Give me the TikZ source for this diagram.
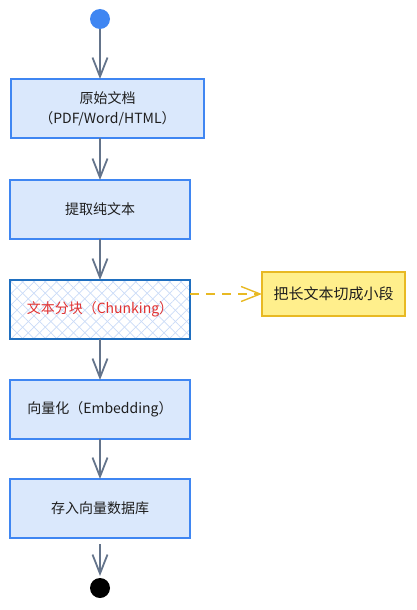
\documentclass[tikz,border=0pt]{standalone}
\usepackage{fontspec}
\setmainfont{Noto Sans CJK SC}
\usetikzlibrary{positioning, arrows.meta, patterns.meta}
\definecolor{boxfill}{HTML}{DAE8FC}
\definecolor{boxline}{HTML}{3F86F2}
\definecolor{chunkline}{HTML}{1F6FC0}
\definecolor{hatch}{HTML}{CADBF7}
\definecolor{flow}{HTML}{64748B}
\definecolor{chunktext}{HTML}{E03131}
\definecolor{notefill}{HTML}{FFEF8C}
\definecolor{noteline}{HTML}{E8B923}
\definecolor{ink}{HTML}{1E1E1E}
\tikzset{
  >={Straight Barb[length=19pt,width=15pt]},
  x=1pt, y=-1pt,
  every node/.style={font=\fontsize{14}{20}\selectfont, text=ink, outer sep=0pt},
  stepbox/.style={draw=boxline, line width=1.6pt, fill=boxfill,
                  minimum width=180pt, minimum height=59pt, align=center},
  chunkbox/.style={stepbox, draw=chunkline, line width=2pt, fill=none,
                   preaction={pattern={Lines[angle=45,distance=8pt,line width=0.7pt]}, pattern color=hatch},
                   preaction={pattern={Lines[angle=-45,distance=8pt,line width=0.7pt]}, pattern color=hatch}},
  notebox/.style={draw=noteline, line width=1.6pt, fill=notefill,
                  minimum width=143pt, minimum height=44pt, font=\fontsize{15}{16}\selectfont},
  startdot/.style={circle, fill=boxline, minimum size=20pt, inner sep=0pt},
  enddot/.style={circle, fill=black, minimum size=20pt, inner sep=0pt},
  flowline/.style={->, draw=flow, line width=1.8pt},
  hintline/.style={->, draw=noteline, line width=1.4pt, dash pattern=on 9pt off 7pt},
}

\begin{document}
\begin{tikzpicture}
      \useasboundingbox (0,0) rectangle (416,610);

      \node[startdot]                                 (start)   at (100,19) {};
      \node[stepbox,minimum width=193pt,below=50pt of start,xshift=7.5pt]
                                                      (doc)     {原始文档\\（PDF/Word/HTML）};
      \node[stepbox,below=42pt of doc,xshift=-7.5pt]  (extract) {提取纯文本};
      \node[chunkbox,below=41pt of extract]           (chunk)   {\color{chunktext}文本分块（Chunking）};
      \node[stepbox,below=41pt of chunk]              (embed)   {向量化（Embedding）};
      \node[stepbox,below=40pt of embed]              (store)   {存入向量数据库};
      \node[enddot,below=40pt of store]               (end)     {};
      \node[notebox,right=72pt of chunk,yshift=15.5pt] (note)    {把长文本切成小段};

      \draw[flowline] (start) -- (start |- doc.north);
      \draw[flowline] (start |- doc.south) -- (extract);
      \draw[flowline] (extract) -- (chunk);
      \draw[flowline] (chunk) -- (embed);
      \draw[flowline] (embed) -- (store);
      \draw[flowline,shorten <=6pt,shorten >=2pt] (store) -- (end);
      \draw[hintline] (chunk.east |- note.west) -- (note.west);
    \end{tikzpicture}
\end{document}
